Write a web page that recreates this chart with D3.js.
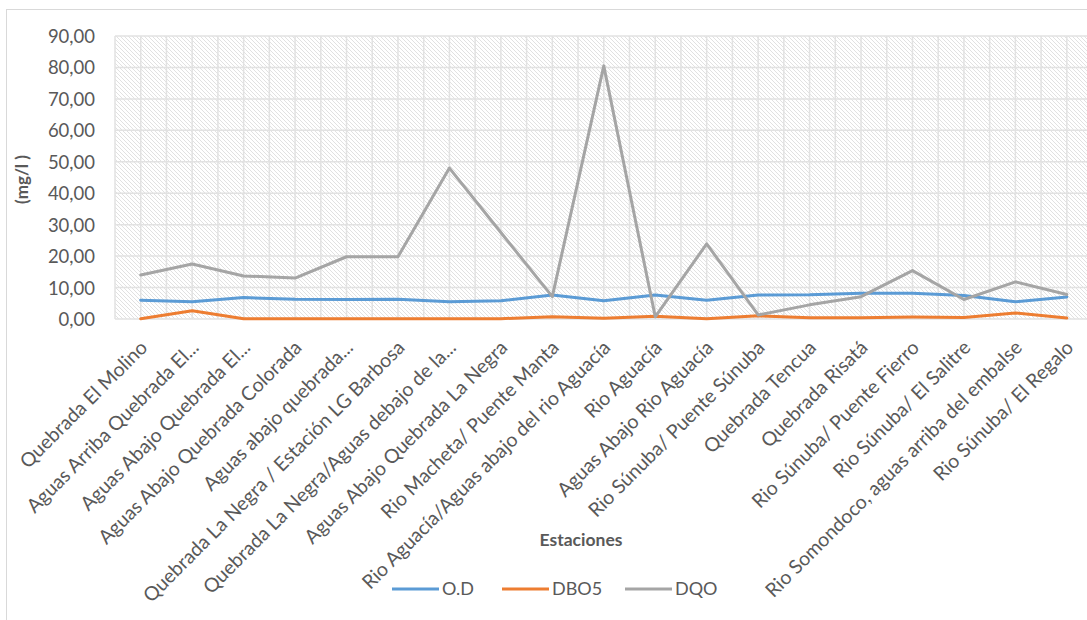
<!DOCTYPE html>
<html>
<head>
<meta charset="utf-8">
<script src="https://cdn.jsdelivr.net/npm/d3@7"></script>
<style>
  html, body { margin: 0; padding: 0; background: #ffffff; }
  svg { display: block; }
  text { font-family: Lato, "Open Sans", sans-serif; }
</style>
</head>
<body>
<svg id="chart" width="1087" height="620"></svg>
<script>
// Estaciones de muestreo
const estaciones = [
  "Quebrada El Molino",
  "Aguas Arriba Quebrada El...",
  "Aguas Abajo Quebrada El...",
  "Aguas Abajo Quebrada Colorada",
  "Aguas abajo quebrada...",
  "Quebrada La Negra / Estación LG Barbosa",
  "Quebrada La Negra/Aguas debajo de la...",
  "Aguas Abajo Quebrada La Negra",
  "Rio Macheta/ Puente Manta",
  "Rio Aguacía/Aguas abajo del rio Aguacía",
  "Rio Aguacía",
  "Aguas Abajo Rio Aguacía",
  "Rio Súnuba/ Puente Súnuba",
  "Quebrada Tencua",
  "Quebrada Risatá",
  "Rio Súnuba/ Puente Fierro",
  "Rio Súnuba/ El Salitre",
  "Rio Somondoco, aguas arriba del embalse",
  "Rio Súnuba/ El Regalo"
];

// Oxígeno disuelto (mg/l)
const od   = [6.0, 5.5, 6.8, 6.3, 6.2, 6.3, 5.5, 5.8, 7.6, 5.8, 7.6, 6.0, 7.6, 7.7, 8.2, 8.2, 7.5, 5.5, 7.0];
// Demanda bioquímica de oxígeno (mg/l)
const dbo5 = [0.1, 2.6, 0.1, 0.1, 0.1, 0.1, 0.1, 0.1, 0.7, 0.2, 0.9, 0.1, 1.0, 0.4, 0.4, 0.6, 0.5, 1.9, 0.3];
// Demanda química de oxígeno (mg/l)
const dqo  = [14.0, 17.5, 13.7, 13.0, 19.8, 19.8, 48.0, 27.5, 7.1, 80.5, 0.7, 23.9, 1.3, 4.5, 7.1, 15.4, 6.2, 11.8, 7.8];

const yTicks = [0, 10, 20, 30, 40, 50, 60, 70, 80, 90];
const seriesNames = ["O.D", "DBO5", "DQO"];
const seriesColors = ["#5B9BD5", "#ED7D31", "#A5A5A5"];
const seriesValues = [od, dbo5, dqo];

const svg = d3.select("#chart");
const W = 1087, H = 620;

// Plot area
const plotLeft = 115, plotTop = 36, plotBottom = 319;
const step = 51.45;
const plotRight = plotLeft + step * estaciones.length;

const x = d3.scalePoint().domain(estaciones).range([plotLeft, plotRight]).padding(0.5);
const y = d3.scaleLinear().domain([0, 90]).range([plotBottom, plotTop]);

// Chart frame
svg.append("rect")
  .attr("x", 6.5).attr("y", 9.5)
  .attr("width", W + 20).attr("height", H + 20)
  .attr("fill", "#fff").attr("stroke", "#d9d9d9").attr("stroke-width", 1);

// Diagonal hatch fill for the plot area
const defs = svg.append("defs");
const pat = defs.append("pattern")
  .attr("id", "hatch").attr("patternUnits", "userSpaceOnUse")
  .attr("width", 4).attr("height", 4);
pat.append("rect").attr("width", 4).attr("height", 4).attr("fill", "#ffffff");
pat.append("path")
  .attr("d", "M-1,-1 L5,5 M-1,3 L1,5 M3,-1 L5,1")
  .attr("stroke", "#dedede").attr("stroke-width", 0.9);

defs.append("clipPath").attr("id", "plotClip")
  .append("rect").attr("x", plotLeft).attr("y", plotTop - 2)
  .attr("width", plotRight - plotLeft).attr("height", plotBottom - plotTop + 4);

svg.append("rect")
  .attr("x", plotLeft).attr("y", plotTop)
  .attr("width", plotRight - plotLeft).attr("height", plotBottom - plotTop)
  .attr("fill", "url(#hatch)");

// Gridlines
const grid = svg.append("g").attr("stroke", "#e2e2e2").attr("stroke-width", 1.5);
grid.selectAll("line.h").data(yTicks).join("line")
  .attr("class", "h")
  .attr("x1", plotLeft).attr("x2", plotRight)
  .attr("y1", d => y(d)).attr("y2", d => y(d));
const halfSteps = d3.range(0, estaciones.length * 2 + 1);
grid.selectAll("line.v").data(halfSteps).join("line")
  .attr("class", "v")
  .attr("x1", k => plotLeft + k * x.step() / 2).attr("x2", k => plotLeft + k * x.step() / 2)
  .attr("y1", plotTop).attr("y2", plotBottom);

// Y axis tick labels
const yAxis = d3.axisLeft(y).tickValues(yTicks)
  .tickSize(0).tickPadding(0)
  .tickFormat(d => d3.format(".2f")(d).replace(".", ","));
const gy = svg.append("g").attr("transform", "translate(95,0)").call(yAxis);
gy.select(".domain").remove();
gy.selectAll("text")
  .attr("fill", "#595959").attr("font-size", "18.5px")
  .attr("font-family", "Lato, sans-serif").attr("dy", "0.35em");

// X axis category labels
const xAxis = d3.axisBottom(x).tickSize(0).tickPadding(0);
const gx = svg.append("g").call(xAxis);
gx.select(".domain").remove();
gx.selectAll(".tick").attr("transform", d => `translate(${x(d) + 3},344)`);
gx.selectAll("text")
  .attr("fill", "#595959").attr("font-size", "19.5px")
  .attr("font-family", "Lato, sans-serif")
  .attr("text-anchor", "end")
  .attr("y", 0).attr("dy", "0.35em")
  .attr("transform", "rotate(-45)");

// Series lines
const lineGen = d3.line()
  .x((d, i) => x(estaciones[i]))
  .y(d => y(d));

const plot = svg.append("g").attr("clip-path", "url(#plotClip)");
seriesValues.forEach((vals, s) => {
  plot.append("path")
    .datum(vals)
    .attr("d", lineGen)
    .attr("fill", "none")
    .attr("stroke", seriesColors[s])
    .attr("stroke-width", 3)
    .attr("stroke-linejoin", "round")
    .attr("stroke-linecap", "round");
});

// Axis titles
svg.append("text")
  .attr("transform", `translate(28,${(plotTop + plotBottom) / 2 + 2}) rotate(-90)`)
  .attr("text-anchor", "middle")
  .attr("fill", "#595959").attr("font-size", "17px").attr("font-weight", "bold")
  .text("(mg/l )");

svg.append("text")
  .attr("x", 581).attr("y", 546)
  .attr("text-anchor", "middle")
  .attr("fill", "#595959").attr("font-size", "17.5px").attr("font-weight", "bold")
  .text("Estaciones");

// Legend
const legendX = [392, 502, 625];
const legend = svg.append("g");
seriesNames.forEach((name, s) => {
  const g = legend.append("g").attr("transform", `translate(${legendX[s]},589)`);
  g.append("line").attr("x1", 0).attr("x2", 47).attr("y1", 0).attr("y2", 0)
    .attr("stroke", seriesColors[s]).attr("stroke-width", 3);
  g.append("text").attr("x", 50).attr("y", 0).attr("dy", "0.35em")
    .attr("fill", "#595959").attr("font-size", "18px")
    .text(name);
});
</script>
</body>
</html>
